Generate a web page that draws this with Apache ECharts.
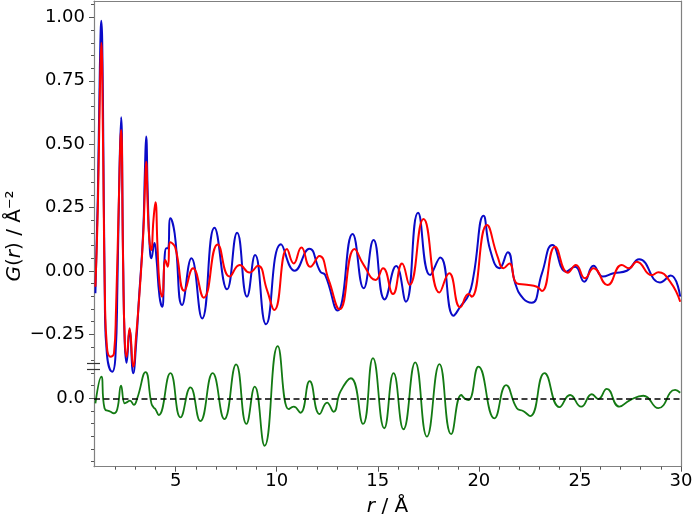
<!DOCTYPE html>
<html>
<head>
<meta charset="utf-8">
<script src="https://cdn.jsdelivr.net/npm/echarts@6/dist/echarts.min.js"></script>
<style>
  html, body { margin: 0; padding: 0; background: #fff; overflow: hidden; }
  #chart-panel { width: 692px; height: 518px; }
</style>
</head>
<body>
<div id="chart-panel"></div>
<script>
// observed G(r), blue
var obsData = [
  [1.03,-0.088],[1.15,0.30],[1.25,0.80],[1.32,0.987],[1.40,0.70],[1.50,-0.15],[1.60,-0.33],
  [1.86,-0.397],[2.02,-0.338],[2.12,-0.05],[2.22,0.40],[2.30,0.606],[2.40,0.05],[2.48,-0.28],
  [2.57,-0.362],[2.72,-0.233],[2.90,-0.403],[3.05,-0.28],[3.18,-0.114],[3.39,0.149],[3.48,0.40],
  [3.54,0.53],[3.62,0.30],[3.70,0.12],[3.80,0.05],[3.95,0.11],[4.05,0.05],[4.20,-0.10],
  [4.33,-0.141],[4.45,0.05],[4.54,0.09],[4.62,0.09],[4.74,0.208],[4.95,0.148],[5.32,-0.134],
  [5.78,0.05],[6.31,-0.187],[6.92,0.171],[7.54,-0.072],[8.04,0.151],[8.53,-0.101],[8.93,0.063],
  [9.47,-0.210],[10.21,0.106],[10.89,0.001],[11.61,0.088],[12.16,-0.003],[12.40,-0.016],
  [13.01,-0.156],[13.75,0.146],[14.30,-0.068],[14.79,0.122],[15.34,-0.112],[15.91,0.020],
  [16.39,-0.121],[16.99,0.230],[17.59,-0.016],[18.09,0.053],[18.75,-0.176],[19.08,-0.141],
  [19.49,-0.095],[19.73,-0.022],[20.23,0.218],[20.56,0.083],[21.02,0.011],[21.43,0.074],
  [21.80,-0.049],[22.21,-0.110],[22.62,-0.125],[23.12,-0.009],[23.64,0.103],[24.32,-0.003],
  [24.76,0.017],[25.21,-0.042],[25.67,0.021],[26.13,-0.022],[26.66,-0.009],[27.32,0.001],
  [27.93,0.046],[28.96,-0.045],[29.49,-0.018],[29.96,-0.101]
];

// calculated G(r), red
var calcData = [
  [1.03,-0.062],[1.15,0.25],[1.25,0.70],[1.32,0.90],[1.40,0.55],[1.50,-0.10],[1.60,-0.30],
  [1.78,-0.338],[1.95,-0.325],[2.05,-0.15],[2.18,0.25],[2.30,0.556],[2.40,0.03],[2.48,-0.27],
  [2.57,-0.338],[2.72,-0.226],[2.90,-0.377],[3.05,-0.25],[3.20,-0.10],[3.40,0.15],[3.48,0.33],
  [3.54,0.431],[3.62,0.25],[3.70,0.122],[3.79,0.083],[3.90,0.20],[4.00,0.271],[4.10,0.10],
  [4.20,-0.05],[4.33,-0.101],[4.49,0.043],[4.61,0.017],[4.74,0.113],[4.98,0.093],[5.43,-0.078],
  [5.86,0.011],[6.39,-0.105],[7.08,0.105],[7.67,-0.022],[8.17,0.024],[8.65,-0.006],[9.07,0.021],
  [9.52,-0.075],[9.88,-0.154],[10.51,0.087],[10.84,0.030],[11.22,0.093],[11.66,0.017],
  [12.11,0.059],[12.57,-0.035],[13.11,-0.151],[13.85,0.087],[14.30,0.024],[14.89,-0.035],
  [15.26,0.011],[15.75,-0.091],[16.20,0.030],[16.57,-0.055],[17.26,0.205],[18.05,-0.085],
  [18.53,-0.009],[19.08,-0.143],[19.49,-0.091],[19.65,-0.101],[20.40,0.181],[20.93,0.056],
  [21.22,0.011],[21.51,0.030],[21.88,-0.049],[22.37,-0.054],[22.87,-0.062],[23.12,-0.079],
  [23.77,0.096],[24.40,-0.007],[24.80,0.024],[25.25,-0.029],[25.67,0.011],[26.36,-0.055],
  [27.07,0.024],[27.43,0.011],[27.81,0.037],[28.55,-0.016],[28.88,-0.005],[29.46,-0.042],
  [29.96,-0.121]
];

// difference, green
var diffData = [
  [1.03,-0.020],[1.32,0.085],[1.48,-0.039],[1.78,-0.053],[1.94,-0.059],[2.11,-0.043],[2.30,0.050],
  [2.48,-0.020],[2.60,-0.015],[2.74,-0.009],[2.93,-0.026],[3.10,0.0],[3.51,0.103],[3.80,-0.020],
  [3.90,-0.035],[4.00,-0.043],[4.16,-0.066],[4.74,0.099],[5.24,-0.075],[5.73,0.043],[6.22,-0.090],
  [6.83,0.099],[7.41,-0.082],[7.99,0.134],[8.50,-0.101],[8.91,0.046],[9.40,-0.187],[10.05,0.206],
  [10.59,-0.043],[10.84,-0.033],[11.17,-0.057],[11.63,0.068],[12.12,-0.062],[12.49,-0.017],
  [12.81,-0.053],[13.15,0.026],[13.67,0.079],[14.27,-0.101],[14.76,0.158],[15.32,-0.118],
  [15.78,0.099],[16.27,-0.122],[16.85,0.142],[17.43,-0.151],[18.05,0.135],[18.63,-0.141],
  [19.13,0.013],[19.30,-0.001],[19.49,-0.007],[19.98,0.125],[20.77,-0.079],[21.35,0.052],
  [21.88,-0.039],[22.21,-0.051],[22.54,-0.070],[23.25,0.099],[23.99,-0.035],[24.51,0.013],
  [25.06,-0.033],[25.59,0.016],[25.91,-0.003],[26.33,0.037],[26.95,-0.033],[27.48,-0.007],
  [28.14,0.010],[28.88,-0.039],[29.71,0.033],[29.96,0.022]
];

// ticks
var xMajor = [5, 10, 15, 20, 25, 30];
var xMinor = [2,3,4,6,7,8,9,11,12,13,14,16,17,18,19,21,22,23,24,26,27,28,29];
var yTopMajor = [-0.25, 0, 0.25, 0.5, 0.75, 1.0];
var yTopMinor = [-0.35,-0.3,-0.2,-0.15,-0.1,-0.05,0.05,0.1,0.15,0.2,0.3,0.35,0.4,0.45,
  0.55,0.6,0.65,0.7,0.8,0.85,0.9,0.95,1.05];
var yBotMajor = [0];
var yBotMinor = [-0.25,-0.2,-0.15,-0.1,-0.05,0.05,0.1];

var FONT = 'DejaVu Sans';
var spine = '#808080';
var tickCol = '#555';
var X0 = 0.96, X1 = 30;
var TOP0 = -0.3785, TOP1 = 1.0647;
var BOT0 = -0.2697, BOT1 = 0.1234;

var myChart = echarts.init(document.getElementById('chart-panel'), null, {width: 692, height: 518});

function fmtTop(v) {
  return v.toFixed(2).replace('-', '\u2212');
}

// axis with nothing but optional line / ticks
function bareAxis(grid, pos, min, max, line, ticks, len) {
  return {
    type: 'value', gridIndex: grid, position: pos, min: min, max: max,
    axisLine: {show: line, onZero: false, lineStyle: {color: spine, width: 1.2}},
    axisTick: ticks ? {show: true, customValues: ticks, length: len, lineStyle: {color: tickCol}} : {show: false},
    axisLabel: {show: false}, splitLine: {show: false}
  };
}

function gridBox(top, height) {
  return {left: 94, width: 587, top: top, height: height,
    containLabel: false, outerBoundsMode: 'none'};
}

var xAxes = [
  bareAxis(0, 'top', X0, X1, true, null),                 // top spine
  {   // bottom axis, major
    type: 'value', gridIndex: 1, position: 'bottom', min: X0, max: X1,
    axisLine: {show: true, onZero: false, lineStyle: {color: spine, width: 1.2}},
    axisTick: {show: true, customValues: xMajor, length: 5, lineStyle: {color: tickCol}},
    axisLabel: {show: true, customValues: xMajor, margin: 6, color: '#000',
      fontSize: 18, fontFamily: FONT},
    splitLine: {show: false},
    name: '{i|r} / Å', nameLocation: 'middle', nameGap: 30,
    nameTextStyle: {fontSize: 20, fontFamily: FONT, color: '#000',
      rich: {i: {fontStyle: 'italic', fontSize: 20, fontFamily: FONT, color: '#000'}}}
  },
  bareAxis(2, 'bottom', X0, X1, false, null),              // clone of top grid
  bareAxis(3, 'bottom', X0, X1, false, xMinor, 3)          // minor x ticks
];

var yAxes = [
  {   // top, major
    type: 'value', gridIndex: 0, position: 'left', min: TOP0, max: TOP1,
    axisLine: {show: true, onZero: false, lineStyle: {color: spine, width: 1.2}},
    axisTick: {show: true, customValues: yTopMajor, length: 5, lineStyle: {color: tickCol}},
    axisLabel: {show: true, customValues: yTopMajor, margin: 9, color: '#000',
      fontSize: 18, fontFamily: FONT, formatter: fmtTop},
    splitLine: {show: false}
  },
  {   // bottom, major
    type: 'value', gridIndex: 1, position: 'left', min: BOT0, max: BOT1,
    axisLine: {show: true, onZero: false, lineStyle: {color: spine, width: 1.2}},
    axisTick: {show: true, customValues: yBotMajor, length: 5, lineStyle: {color: tickCol}},
    axisLabel: {show: true, customValues: yBotMajor, margin: 9, color: '#000',
      fontSize: 18, fontFamily: FONT, formatter: function (v) { return v.toFixed(1); }},
    splitLine: {show: false}
  },
  bareAxis(2, 'left', TOP0, TOP1, false, yTopMinor, 3),
  bareAxis(3, 'left', BOT0, BOT1, false, yBotMinor, 3),
  bareAxis(2, 'right', TOP0, TOP1, true, null),            // right spine, top
  bareAxis(3, 'right', BOT0, BOT1, true, null)             // right spine, bottom
];

var option = {
  backgroundColor: '#fff',
  animation: false,
  grid: [gridBox(1, 366), gridBox(367, 99.7), gridBox(1, 366), gridBox(367, 99.7)],
  xAxis: xAxes,
  yAxis: yAxes,
  graphic: [
    {type: 'line', shape: {x1: 87, y1: 363.5, x2: 100, y2: 363.5}, style: {stroke: '#333', lineWidth: 1.2}, z: 100},
    {type: 'line', shape: {x1: 87, y1: 369.5, x2: 100, y2: 369.5}, style: {stroke: '#333', lineWidth: 1.2}, z: 100},
    {
      type: 'text', x: 15, y: 236, rotation: Math.PI / 2,
      style: {
        text: '{i|G}({i|r}) / Å⁻²', align: 'center', verticalAlign: 'middle',
        font: '20px "DejaVu Sans"', fill: '#000',
        rich: {i: {fontStyle: 'italic', fontSize: 20, fontFamily: FONT, fill: '#000'}}
      }
    }
  ],
  series: [
    {
      name: 'obs', type: 'line', xAxisIndex: 0, yAxisIndex: 0, data: obsData,
      showSymbol: false, smooth: 0.5, clip: false,
      lineStyle: {color: '#0a0ac8', width: 2}, itemStyle: {color: '#0a0ac8'}, z: 2
    },
    {
      name: 'calc', type: 'line', xAxisIndex: 0, yAxisIndex: 0, data: calcData,
      showSymbol: false, smooth: 0.5, clip: false,
      lineStyle: {color: '#ff0000', width: 2}, itemStyle: {color: '#ff0000'}, z: 3
    },
    {
      name: 'diff', type: 'line', xAxisIndex: 1, yAxisIndex: 1, data: diffData,
      showSymbol: false, smooth: 0.5, clip: false,
      lineStyle: {color: '#137a13', width: 1.8}, itemStyle: {color: '#137a13'}, z: 2,
      markLine: {
        silent: true, symbol: 'none', label: {show: false},
        lineStyle: {color: '#000', type: [6, 3.5], width: 1.5},
        data: [{yAxis: 0}]
      }
    }
  ]
};
myChart.setOption(option);
</script>
</body>
</html>
